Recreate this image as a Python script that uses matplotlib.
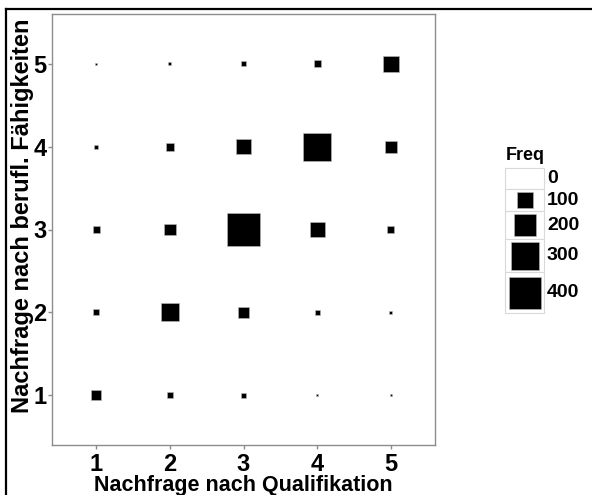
import numpy as np
import matplotlib.pyplot as plt
from matplotlib.lines import Line2D
from matplotlib.patches import Rectangle

plt.rcParams['font.family'] = ['Liberation Sans', 'DejaVu Sans']

# Nachfrage nach Qualifikation (x) / berufl. Faehigkeiten (y)
qual = [1, 2, 3, 4, 5]
faeh = [1, 2, 3, 4, 5]
# Freq, one row per faeh value, columns follow qual
freq = [
    [39, 14, 10, 1, 2],
    [14, 127, 47, 10, 4],
    [19, 56, 425, 88, 19],
    [6, 25, 88, 306, 56],
    [2, 4, 10, 19, 100],
]
legend_vals = [0, 100, 200, 300, 400]
legend_labels = ["0", "100", "200", "300", "400"]

DPI = 100
px2pt = 72.0 / DPI
def area(f):
    side_px = 1.6 * np.sqrt(np.asarray(f, dtype=float))
    return (side_px * px2pt) ** 2

W, H = 592, 495
fig = plt.figure(figsize=(W / DPI, H / DPI), dpi=DPI)

ax = fig.add_axes([52 / W, 1 - 445 / H, (435 - 52) / W, (445 - 14) / H])
xx, yy = np.meshgrid(qual, faeh)
ax.scatter(xx.ravel(), yy.ravel(), s=area(np.array(freq).ravel()), marker='s',
           c='black', edgecolors='#bbbbbb', linewidths=0.4)
ax.set_xlim(0.4, 5.6)
ax.set_ylim(0.4, 5.6)
ax.set_xticks(qual)
ax.set_yticks(faeh)
for sp in ax.spines.values():
    sp.set_color('#8c8c8c')
    sp.set_linewidth(1.0)
ax.tick_params(colors='#8c8c8c', length=3, width=1, labelcolor='black',
               labelsize=17)
ax.tick_params(axis='x', pad=3)
ax.tick_params(axis='y', pad=1)
for lab in ax.get_xticklabels() + ax.get_yticklabels():
    lab.set_fontweight('bold')
ax.set_xlabel("Nachfrage nach Qualifikation", fontsize=15.5, fontweight='bold',
              labelpad=-1)
ax.set_ylabel("Nachfrage nach berufl. Fähigkeiten", fontsize=17,
              fontweight='bold')
ax.yaxis.set_label_coords(-0.046, 0.531)

# legend drawn in pixel coordinates
lx = fig.add_axes([495 / W, 1 - 320 / H, (592 - 495) / W, (320 - 140) / H])
lx.set_xlim(495, 592)
lx.set_ylim(320, 140)
lx.axis('off')
lx.text(506, 156, "Freq", fontsize=13, fontweight='bold', va='center')
tops = [168, 189, 211, 239, 272]
bots = [189, 211, 239, 272, 313]
for v, lab, t, b in zip(legend_vals, legend_labels, tops, bots):
    lx.add_patch(Rectangle((505, t), 39, b - t, facecolor='white',
                           edgecolor='#d9d9d9', linewidth=0.8))
    cy = (t + b) / 2
    if v > 0:
        lx.scatter([524.5], [cy], s=area(v), marker='s', c='black',
                   edgecolors='#bbbbbb', linewidths=0.4)
    lx.text(547, cy, lab, fontsize=14, fontweight='bold', va='center')

# outer frame (left and top edges visible)
fig.add_artist(Line2D([5.5 / W, 5.5 / W], [0, 1 - 8.5 / H], color='black',
                      linewidth=1.6, transform=fig.transFigure))
fig.add_artist(Line2D([5.5 / W, 1], [1 - 8.5 / H, 1 - 8.5 / H],
                      color='black', linewidth=1.6, transform=fig.transFigure))

fig.savefig("out.png", dpi=DPI)
plt.close(fig)
